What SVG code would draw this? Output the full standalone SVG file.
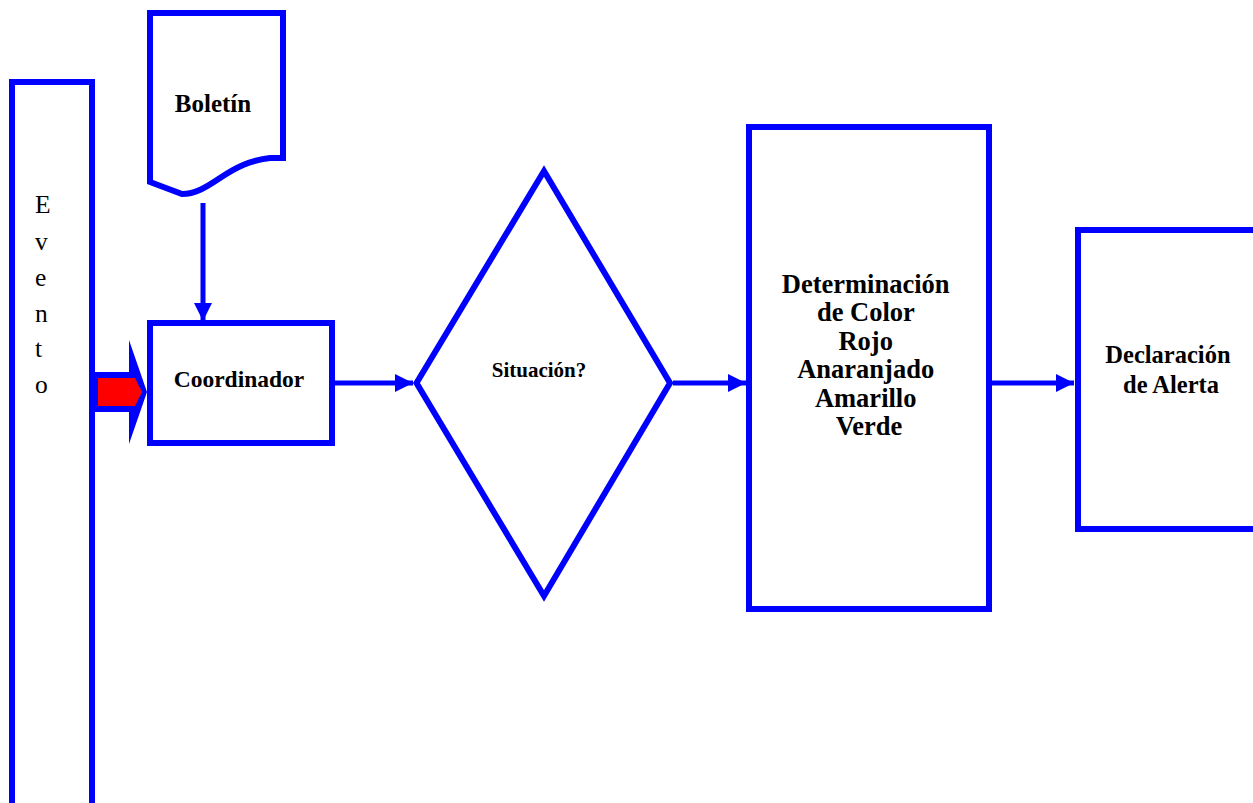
<svg xmlns="http://www.w3.org/2000/svg" width="1253" height="803" viewBox="0 0 1253 803">
  <style>
    .box { fill: #ffffff; stroke: #0000ff; stroke-width: 6; stroke-linejoin: miter; }
    .lbl { font-family: 'Liberation Serif', 'DejaVu Serif', serif; font-weight: bold; fill: #000000; text-anchor: middle; }
    .ev { font-family: 'Liberation Serif', 'DejaVu Serif', serif; font-size: 25.5px; fill: #000000; }
    .conn { stroke: #0000ff; stroke-width: 5; fill: none; }
  </style>
  <defs>
    <marker id="ah" markerUnits="userSpaceOnUse" markerWidth="18" markerHeight="18" refX="18" refY="9" orient="auto">
      <path d="M0,0 L18,9 L0,18 Z" fill="#0000ff"/>
    </marker>
  </defs>
  <rect width="1253" height="803" fill="#ffffff"/>

  <g id="evento">
    <rect class="box" x="12" y="82" width="80" height="724"/>
    <text class="ev" x="35" y="213">E</text>
    <text class="ev" x="35" y="250">v</text>
    <text class="ev" x="35" y="286">e</text>
    <text class="ev" x="35" y="322">n</text>
    <text class="ev" x="35" y="357">t</text>
    <text class="ev" x="35" y="393">o</text>
  </g>

  <g id="boletin">
    <path class="box" d="M150,13 H283 V158 H270 C250,160 235,168 220,178 C205,188 195,194 182,194 L150,182 Z"/>
    <text class="lbl" x="213" y="112" font-size="25">Boletín</text>
  </g>

  <g id="coordinador">
    <rect class="box" x="150" y="323" width="182" height="120"/>
    <text class="lbl" x="239" y="387" font-size="23.5">Coordinador</text>
  </g>

  <g id="situacion">
    <polygon class="box" points="416.5,383 544,171 670,383 544,596"/>
    <text class="lbl" x="539" y="377" font-size="21">Situación?</text>
  </g>

  <g id="determinacion">
    <rect class="box" x="749" y="127" width="240" height="482"/>
    <text class="lbl" font-size="26.5">
      <tspan x="869" y="293">Determinación</tspan>
      <tspan x="869" y="321">de Color</tspan>
      <tspan x="869" y="350">Rojo</tspan>
      <tspan x="869" y="378">Anaranjado</tspan>
      <tspan x="869" y="407">Amarillo</tspan>
      <tspan x="869" y="435">Verde</tspan>
    </text>
  </g>

  <g id="declaracion">
    <rect class="box" x="1078" y="230" width="200" height="299"/>
    <text class="lbl" font-size="24.5">
      <tspan x="1171" y="363">Declaración</tspan>
      <tspan x="1171" y="393">de Alerta</tspan>
    </text>
  </g>

  <g id="connectors">
    <g id="evento-arrow">
      <polygon points="95,372 129,372 129,340 147,392 129,444 129,412 95,412" fill="#0000ff"/>
      <polygon points="98,378 135,378 142,392 135,406 98,406" fill="#ff0000"/>
    </g>
    <line class="conn" x1="203" y1="203" x2="203" y2="321" marker-end="url(#ah)"/>
    <line class="conn" x1="335" y1="383" x2="413" y2="383" marker-end="url(#ah)"/>
    <line class="conn" x1="673" y1="383" x2="746" y2="383" marker-end="url(#ah)"/>
    <line class="conn" x1="992" y1="383" x2="1074" y2="383" marker-end="url(#ah)"/>
  </g>
</svg>
